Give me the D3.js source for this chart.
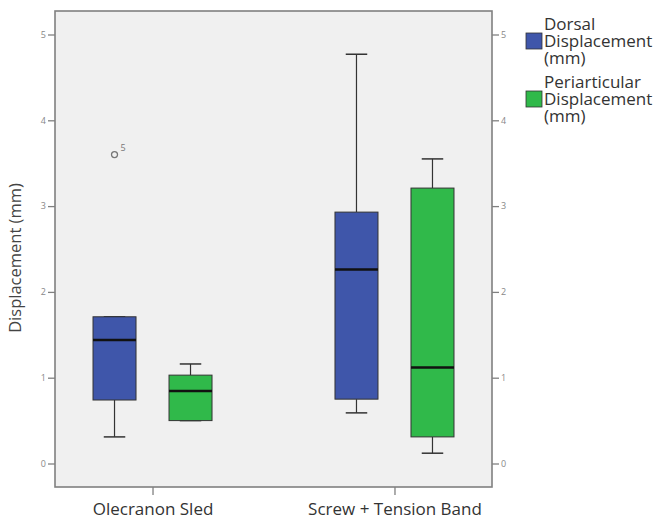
<!DOCTYPE html>
<html>
<head>
<meta charset="utf-8">
<script src="https://cdn.jsdelivr.net/npm/d3@7"></script>
<style>
  body { margin: 0; background: #fff; }
  text { font-family: "Open Sans", "DejaVu Sans", sans-serif; }
</style>
</head>
<body>
<div id="chart"></div>
<script>
// data
var groups = ["Olecranon Sled", "Screw + Tension Band"];
var seriesNames = ["Dorsal Displacement (mm)", "Periarticular Displacement (mm)"];
var seriesColors = ["#3f56aa", "#30b94a"];

// [lowWhisker, q1, median, q3, highWhisker] per group
var dorsalStats = [[0.31, 0.74, 1.44, 1.71, 1.71], [0.59, 0.75, 2.26, 2.93, 4.77]];
var periStats = [[0.50, 0.50, 0.845, 1.03, 1.16], [0.12, 0.31, 1.12, 3.21, 3.55]];

// outliers: group, series, value, case label
var outliers = [{ group: "Olecranon Sled", series: 0, value: 3.6, label: "5" }];

var yTicks = [0, 1, 2, 3, 4, 5];

var svgWidth = 656;
var svgHeight = 519;

var plot = { left: 55, right: 492, top: 11, bottom: 487 };

var svg = d3.select("#chart")
    .append("svg")
    .attr("width", svgWidth)
    .attr("height", svgHeight);

// plot background
svg.append("rect")
    .attr("x", plot.left)
    .attr("y", plot.top)
    .attr("width", plot.right - plot.left)
    .attr("height", plot.bottom - plot.top)
    .attr("fill", "#f0f0f0")
    .attr("stroke", "#808080")
    .attr("stroke-width", 1.6);

var yScale = d3.scaleLinear()
    .domain([0, 5])
    .range([463.5, 34.5]);

var xScale = d3.scalePoint()
    .domain(groups)
    .range([plot.left, plot.right])
    .padding(0.403);

var subScale = d3.scalePoint()
    .domain([0, 1])
    .range([-38, 38]);

var boxWidth = 43;

// axes
var leftAxis = d3.axisLeft(yScale).tickValues(yTicks).tickFormat(d3.format("d")).tickSize(7).tickPadding(2);
var rightAxis = d3.axisRight(yScale).tickValues(yTicks).tickFormat(d3.format("d")).tickSize(7).tickPadding(2);
var bottomAxis = d3.axisBottom(xScale).tickSize(8).tickPadding(8);

function styleAxis(g, fontSize, color) {
    g.select(".domain").remove();
    g.selectAll(".tick line").attr("stroke", "#808080").attr("stroke-width", 1.3);
    g.selectAll(".tick text")
        .attr("font-size", fontSize)
        .attr("fill", color)
        .attr("font-family", "'Open Sans', sans-serif");
}

svg.append("g")
    .attr("transform", `translate(${plot.left},0)`)
    .call(leftAxis)
    .call(g => styleAxis(g, 9, "#888"));

svg.append("g")
    .attr("transform", `translate(${plot.right},0)`)
    .call(rightAxis)
    .call(g => styleAxis(g, 9, "#888"));

svg.append("g")
    .attr("transform", `translate(0,${plot.bottom})`)
    .call(bottomAxis)
    .call(g => styleAxis(g, 17, "#333"));

// y axis title
svg.append("text")
    .attr("transform", "translate(21,258) rotate(-90)")
    .attr("text-anchor", "middle")
    .attr("font-size", 16.5)
    .attr("fill", "#444")
    .text("Displacement (mm)");

// boxes
var boxes = [];
groups.forEach(function(grp, i) {
    boxes.push({ group: grp, series: 0, s: dorsalStats[i] });
    boxes.push({ group: grp, series: 1, s: periStats[i] });
});

var boxG = svg.selectAll(".box")
    .data(boxes)
    .enter()
    .append("g")
    .attr("class", "box")
    .attr("transform", d => `translate(${xScale(d.group) + subScale(d.series)},0)`);

// whiskers
boxG.append("line")
    .attr("x1", 0).attr("x2", 0)
    .attr("y1", d => yScale(d.s[0]))
    .attr("y2", d => yScale(d.s[1]))
    .attr("stroke", "#333")
    .attr("stroke-width", 1.2);

boxG.append("line")
    .attr("x1", 0).attr("x2", 0)
    .attr("y1", d => yScale(d.s[3]))
    .attr("y2", d => yScale(d.s[4]))
    .attr("stroke", "#333")
    .attr("stroke-width", 1.2);

boxG.append("line")
    .attr("x1", -boxWidth / 4).attr("x2", boxWidth / 4)
    .attr("y1", d => yScale(d.s[0]))
    .attr("y2", d => yScale(d.s[0]))
    .attr("stroke", "#333")
    .attr("stroke-width", 1.5);

boxG.append("line")
    .attr("x1", -boxWidth / 4).attr("x2", boxWidth / 4)
    .attr("y1", d => yScale(d.s[4]))
    .attr("y2", d => yScale(d.s[4]))
    .attr("stroke", "#333")
    .attr("stroke-width", 1.5);

boxG.append("rect")
    .attr("x", -boxWidth / 2)
    .attr("width", boxWidth)
    .attr("y", d => yScale(d.s[3]))
    .attr("height", d => yScale(d.s[1]) - yScale(d.s[3]))
    .attr("fill", d => seriesColors[d.series])
    .attr("stroke", "#333")
    .attr("stroke-width", 1);

boxG.append("line")
    .attr("x1", -boxWidth / 2).attr("x2", boxWidth / 2)
    .attr("y1", d => yScale(d.s[2]))
    .attr("y2", d => yScale(d.s[2]))
    .attr("stroke", "#111")
    .attr("stroke-width", 2.5);

// outliers
var outG = svg.selectAll(".outlier")
    .data(outliers)
    .enter()
    .append("g")
    .attr("class", "outlier")
    .attr("transform", d => `translate(${xScale(d.group) + subScale(d.series)},${yScale(d.value)})`);

outG.append("circle")
    .attr("r", 3)
    .attr("fill", "none")
    .attr("stroke", "#777")
    .attr("stroke-width", 1.3);

outG.append("text")
    .attr("x", 6)
    .attr("y", -4)
    .attr("font-size", 9)
    .attr("fill", "#777")
    .text(d => d.label);

// legend
var legendLines = [["Dorsal", "Displacement", "(mm)"], ["Periarticular", "Displacement", "(mm)"]];
var legend = svg.selectAll(".legend")
    .data(seriesNames)
    .enter()
    .append("g")
    .attr("class", "legend")
    .attr("transform", (d, i) => `translate(526,${i * 58})`);

legend.append("rect")
    .attr("x", 0)
    .attr("y", 33)
    .attr("width", 16)
    .attr("height", 16)
    .attr("fill", (d, i) => seriesColors[i])
    .attr("stroke", "#333")
    .attr("stroke-width", 0.8);

legend.each(function(d, i) {
    d3.select(this).selectAll("text")
        .data(legendLines[i])
        .enter()
        .append("text")
        .attr("x", 18)
        .attr("y", (t, j) => 30 + j * 17)
        .attr("font-size", 17)
        .attr("fill", "#333")
        .text(t => t);
});
</script>
</body>
</html>
